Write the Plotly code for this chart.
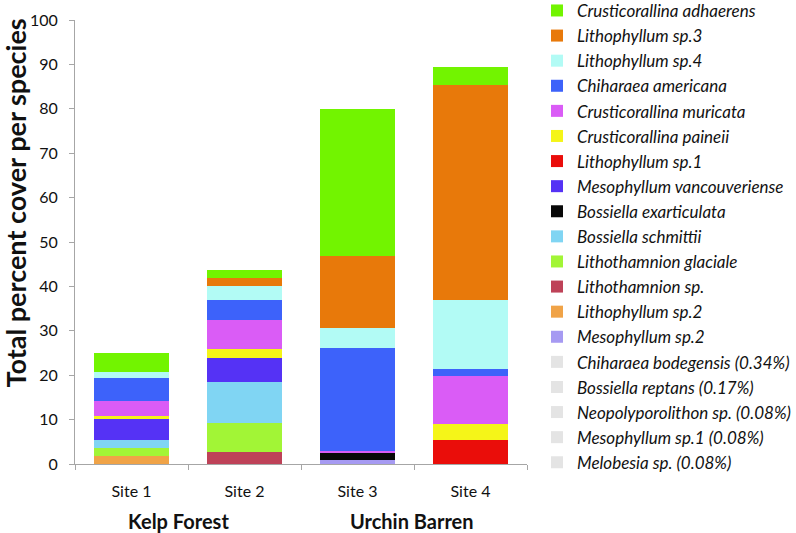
import plotly.graph_objects as go

sites = ["Site 1", "Site 2", "Site 3", "Site 4"]
habitats = ["Kelp Forest", "Urchin Barren"]
y_ticks = [0, 10, 20, 30, 40, 50, 60, 70, 80, 90, 100]

# percent cover per species at Site 1..4 (bottom of stack first)
melobesia_sp = [0, 0, 0, 0]
mesophyllum_sp1 = [0, 0, 0, 0]
neopolyporolithon_sp = [0, 0, 0, 0]
bossiella_reptans = [0, 0, 0, 0]
chiharaea_bodegensis = [0, 0, 0, 0]
mesophyllum_sp2 = [0, 0, 1.0, 0]
lithophyllum_sp2 = [1.9, 0, 0, 0]
lithothamnion_sp = [0, 2.8, 0, 0]
lithothamnion_glaciale = [1.8, 6.5, 0, 0]
bossiella_schmittii = [1.8, 9.1, 0, 0]
bossiella_exarticulata = [0, 0, 1.4, 0]
mesophyllum_vancouveriense = [4.6, 5.4, 0, 0]
lithophyllum_sp1 = [0, 0, 0, 5.3]
crusticorallina_paineii = [0.6, 2.0, 0, 3.6]
crusticorallina_muricata = [3.5, 6.7, 0.5, 11.0]
chiharaea_americana = [5.2, 4.4, 23.3, 1.5]
lithophyllum_sp4 = [1.3, 3.2, 4.5, 15.5]
lithophyllum_sp3 = [0, 1.9, 16.1, 48.5]
crusticorallina_adhaerens = [4.2, 1.8, 33.2, 4.0]

series = [
    ("Melobesia sp. (0.08%)", melobesia_sp, "#E4E4E4"),
    ("Mesophyllum sp.1 (0.08%)", mesophyllum_sp1, "#E4E4E4"),
    ("Neopolyporolithon sp. (0.08%)", neopolyporolithon_sp, "#E4E4E4"),
    ("Bossiella reptans (0.17%)", bossiella_reptans, "#E4E4E4"),
    ("Chiharaea bodegensis (0.34%)", chiharaea_bodegensis, "#E4E4E4"),
    ("Mesophyllum sp.2", mesophyllum_sp2, "#A69AF2"),
    ("Lithophyllum sp.2", lithophyllum_sp2, "#F0A347"),
    ("Lithothamnion sp.", lithothamnion_sp, "#BE4258"),
    ("Lithothamnion glaciale", lithothamnion_glaciale, "#A2F536"),
    ("Bossiella schmittii", bossiella_schmittii, "#80D5F3"),
    ("Bossiella exarticulata", bossiella_exarticulata, "#080808"),
    ("Mesophyllum vancouveriense", mesophyllum_vancouveriense, "#5532F5"),
    ("Lithophyllum sp.1", lithophyllum_sp1, "#EA0D0A"),
    ("Crusticorallina paineii", crusticorallina_paineii, "#F5F518"),
    ("Crusticorallina muricata", crusticorallina_muricata, "#DA5CF6"),
    ("Chiharaea americana", chiharaea_americana, "#3D62FA"),
    ("Lithophyllum sp.4", lithophyllum_sp4, "#B2FBF5"),
    ("Lithophyllum sp.3", lithophyllum_sp3, "#E8790A"),
    ("Crusticorallina adhaerens", crusticorallina_adhaerens, "#72F400"),
]

fig = go.Figure()
for name, vals, col in series:
    fig.add_trace(go.Bar(
        x=sites, y=vals, name=name,
        marker=dict(color=col, line=dict(width=0)),
    ))

axis_grey = "#A6A6A6"
fig.update_layout(
    width=796, height=533,
    margin=dict(l=75, r=269, t=20, b=68.5, autoexpand=False),
    paper_bgcolor="white", plot_bgcolor="white",
    barmode="stack", bargap=0.34,
    font=dict(family="Lato, Open Sans, sans-serif", color="#111111"),
    showlegend=True,
    legend=dict(
        xref="container", yref="paper",
        x=0.6746, xanchor="left", y=1.061, yanchor="top",
        traceorder="reversed", maxheight=580,
        font=dict(size=17, family="Lato", style="italic", color="#111111"),
        bgcolor="rgba(0,0,0,0)", itemclick=False,
    ),
    xaxis=dict(
        type="category", tickson="boundaries", ticks="outside", ticklen=5,
        tickcolor=axis_grey, showline=True, linecolor=axis_grey, linewidth=1,
        showgrid=False, tickfont=dict(size=16), ticklabelstandoff=13,
        automargin=False,
    ),
    yaxis=dict(
        range=[0, 100], tickvals=y_ticks, ticks="outside", ticklen=5,
        tickcolor=axis_grey, showline=True, linecolor=axis_grey, linewidth=1,
        showgrid=False, zeroline=False, tickfont=dict(size=16),
        ticklabelstandoff=8, automargin=False,
    ),
)

fig.add_annotation(
    text="<b>Total percent cover per species</b>", textangle=-90,
    xref="paper", yref="paper", x=-0.1315, y=0.588,
    xanchor="center", yanchor="middle",
    showarrow=False, font=dict(size=27, family="Lato"),
)
for label, xc in zip(habitats, [0.228, 0.746]):
    fig.add_annotation(
        text=f"<b>{label}</b>", xref="paper", yref="paper",
        x=xc, y=-0.129, xanchor="center", yanchor="middle",
        showarrow=False, font=dict(size=20, family="Lato"),
    )

fig.write_html(
    "out.html",
    config={"displayModeBar": False},
    post_script="document.body.style.margin='0px';",
)
